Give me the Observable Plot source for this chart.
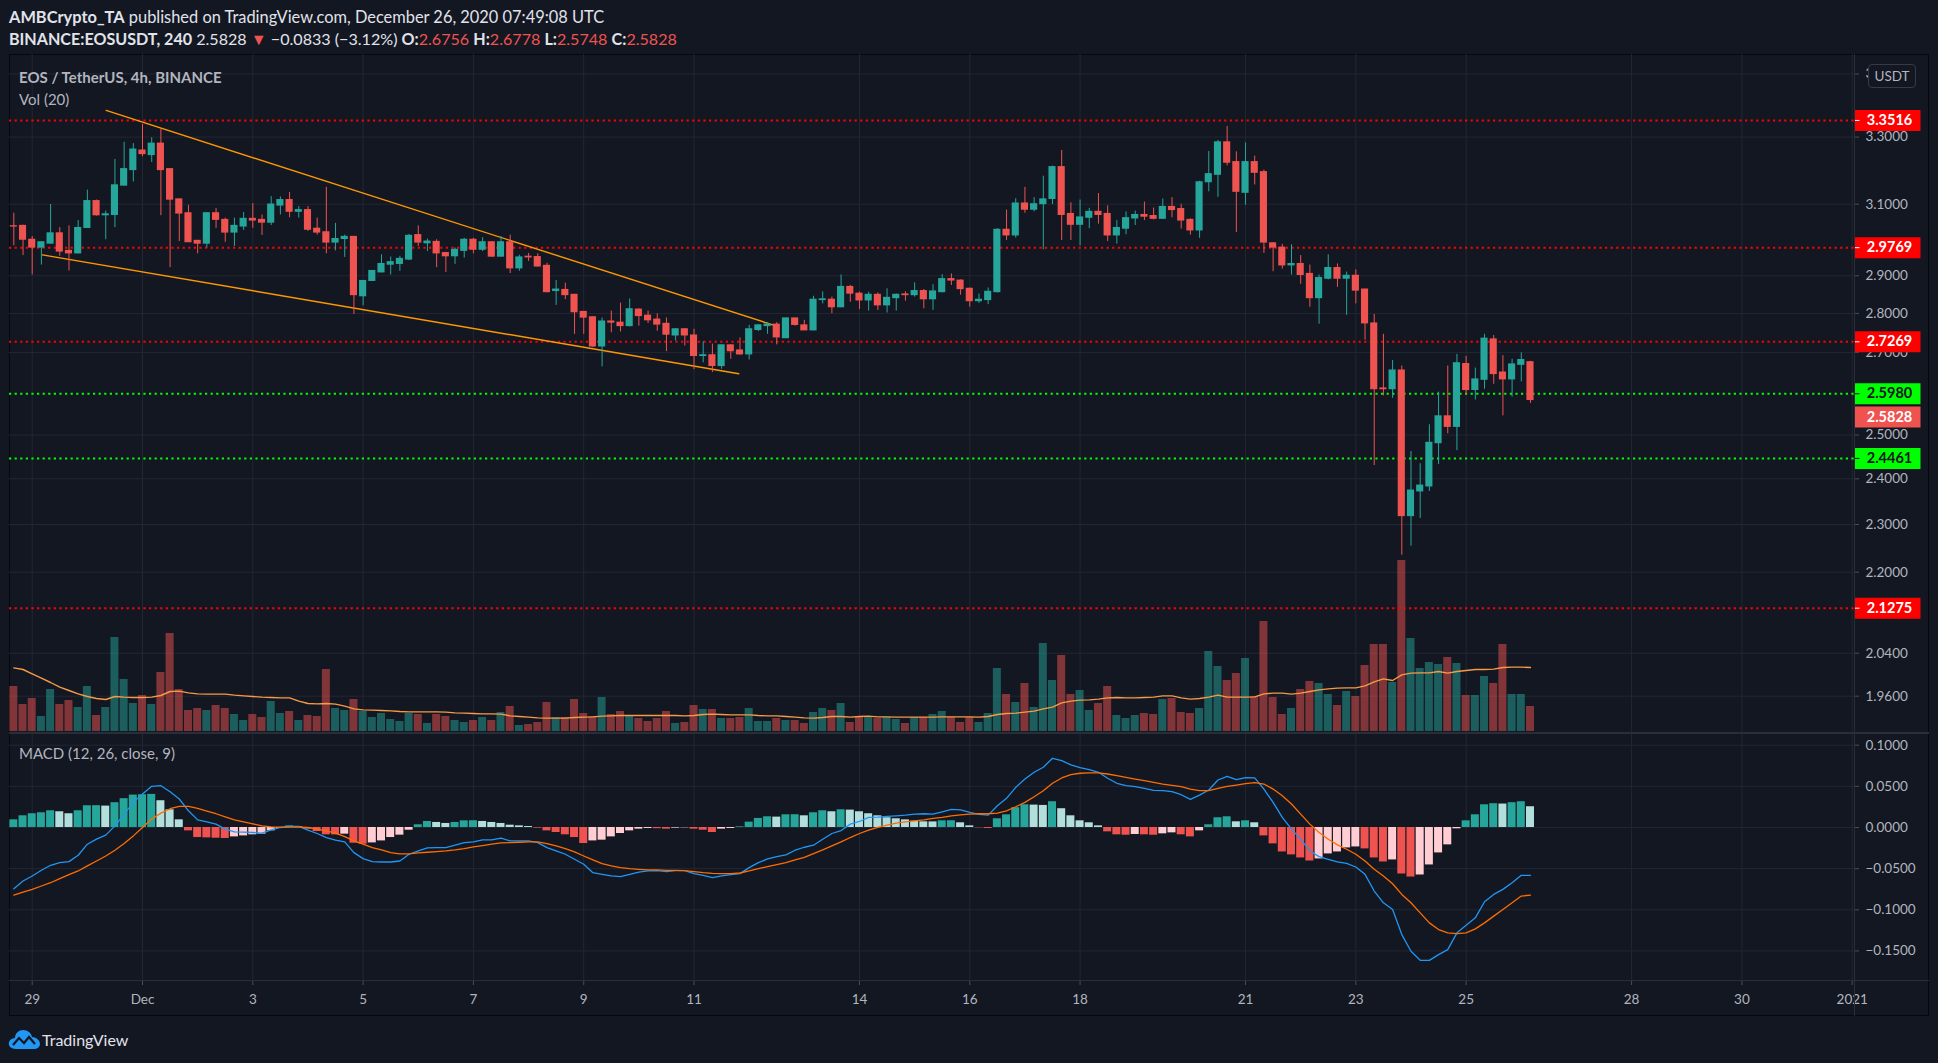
<!DOCTYPE html>
<html>
<head>
<meta charset="utf-8">
<script src="https://cdn.jsdelivr.net/npm/d3@7"></script>
<script src="https://cdn.jsdelivr.net/npm/@observablehq/plot@0.6"></script>
<style>
html,body{margin:0;padding:0;background:#131722;}
#root{position:relative;width:1938px;height:1063px;overflow:hidden;background:#131722;font-family:Lato,"Open Sans",sans-serif;}
.abs{position:absolute;white-space:nowrap;}
.hdr{left:9px;color:#e1e3ea;line-height:20px;}
.hdr b{font-weight:700;}
.red{color:#ef5350;}
.pane-title{left:19px;color:#b2b5be;font-size:15px;line-height:18px;}
svg{overflow:visible;}
</style>
</head>
<body>
<div id="root"></div>
<script>
// ---------- DATA ----------
const firstCandleUTC = "2020-11-28T16:00:00Z"; // 4h candles
const candleHours = 4;

const open = [
3.037,3.038,2.999,2.977,2.988,3.017,2.968,2.961,3.032,3.109,
3.068,3.069,3.154,3.200,3.259,3.245,3.280,3.203,3.114,3.074,
2.996,2.988,3.074,3.055,3.019,3.036,3.058,3.055,3.047,3.096,
3.112,3.078,3.083,3.030,3.020,2.991,3.001,3.007,2.845,2.886,
2.909,2.930,2.932,2.944,3.012,2.989,2.993,2.962,2.953,2.968,
2.999,2.971,2.992,2.952,2.992,2.920,2.952,2.951,2.927,2.859,
2.862,2.849,2.804,2.790,2.715,2.779,2.776,2.767,2.810,2.794,
2.784,2.773,2.743,2.759,2.743,2.691,2.693,2.666,2.718,2.705,
2.695,2.757,2.767,2.771,2.736,2.787,2.769,2.756,2.835,2.836,
2.816,2.870,2.852,2.834,2.849,2.821,2.840,2.850,2.848,2.859,
2.837,2.856,2.891,2.887,2.865,2.832,2.835,2.856,3.027,3.011,
3.102,3.084,3.100,3.115,3.209,3.072,3.041,3.061,3.078,3.072,
3.011,3.030,3.059,3.069,3.066,3.058,3.092,3.086,3.055,3.025,
3.164,3.186,3.284,3.224,3.133,3.224,3.194,2.989,2.977,2.928,
2.932,2.905,2.840,2.892,2.921,2.892,2.900,2.863,2.774,2.611,
2.609,2.655,2.318,2.372,2.383,2.481,2.544,2.519,2.671,2.607,
2.632,2.733,2.650,2.633,2.669,2.6756];

const high = [
3.074,3.040,3.008,2.993,3.099,3.033,3.038,3.053,3.141,3.112,
3.080,3.232,3.284,3.280,3.339,3.298,3.324,3.204,3.115,3.097,
2.997,3.076,3.088,3.060,3.060,3.076,3.102,3.069,3.122,3.121,
3.134,3.093,3.093,3.060,3.149,3.045,3.012,3.008,2.887,2.914,
2.957,2.951,2.953,3.014,3.038,3.001,2.999,2.964,2.976,3.003,
3.003,3.005,2.994,3.008,3.012,2.956,2.961,2.960,2.934,2.887,
2.880,2.850,2.805,2.791,2.788,2.806,2.827,2.838,2.812,2.806,
2.799,2.788,2.760,2.760,2.759,2.727,2.721,2.719,2.719,2.737,
2.769,2.771,2.776,2.776,2.788,2.788,2.782,2.845,2.857,2.843,
2.902,2.874,2.856,2.856,2.854,2.865,2.851,2.857,2.881,2.863,
2.876,2.903,2.905,2.889,2.867,2.851,2.867,3.030,3.083,3.116,
3.149,3.119,3.182,3.212,3.259,3.104,3.112,3.088,3.131,3.095,
3.053,3.078,3.080,3.106,3.089,3.115,3.119,3.100,3.058,3.167,
3.256,3.290,3.333,3.255,3.282,3.242,3.200,2.991,2.986,2.985,
2.955,2.929,2.902,2.957,2.932,2.910,2.916,2.864,2.797,2.746,
2.680,2.666,2.462,2.434,2.524,2.602,2.666,2.695,2.690,2.661,
2.746,2.743,2.692,2.683,2.699,2.6778];

const low = [
2.982,2.955,2.902,2.929,2.987,2.953,2.913,2.960,3.031,3.066,
2.999,3.033,3.153,3.165,3.240,3.223,3.067,2.922,2.994,2.992,
2.960,2.976,3.031,2.992,2.980,3.025,3.031,3.011,3.039,3.069,
3.061,3.060,3.022,3.012,2.960,2.968,2.950,2.797,2.820,2.885,
2.908,2.902,2.912,2.941,2.980,2.966,2.922,2.909,2.931,2.948,
2.960,2.966,2.950,2.951,2.906,2.912,2.939,2.924,2.854,2.821,
2.836,2.746,2.746,2.712,2.664,2.750,2.752,2.765,2.767,2.774,
2.754,2.702,2.729,2.716,2.657,2.674,2.650,2.658,2.683,2.693,
2.681,2.753,2.746,2.719,2.735,2.767,2.756,2.755,2.825,2.799,
2.815,2.829,2.810,2.806,2.808,2.801,2.806,2.832,2.843,2.812,
2.808,2.854,2.874,2.848,2.816,2.826,2.823,2.854,2.997,3.004,
3.074,3.078,2.971,3.099,2.997,2.997,2.982,3.030,3.043,2.994,
2.987,3.013,3.039,3.053,3.055,3.057,3.061,3.029,3.012,3.003,
3.136,3.120,3.213,3.019,3.097,3.156,2.961,2.911,2.918,2.902,
2.877,2.816,2.772,2.889,2.869,2.795,2.825,2.731,2.430,2.593,
2.587,2.235,2.254,2.313,2.372,2.432,2.503,2.464,2.595,2.583,
2.609,2.621,2.545,2.590,2.627,2.5748];

const close = [
3.036,2.999,2.977,2.992,3.017,2.966,2.961,3.032,3.109,3.068,
3.071,3.155,3.203,3.262,3.248,3.280,3.200,3.113,3.073,2.992,
2.988,3.074,3.055,3.019,3.038,3.058,3.053,3.047,3.099,3.112,
3.078,3.083,3.027,3.019,2.991,3.001,3.007,2.848,2.886,2.913,
2.932,2.937,2.946,3.010,2.991,2.994,2.961,2.953,2.971,2.999,
2.971,2.992,2.952,2.992,2.920,2.950,2.950,2.925,2.856,2.863,
2.848,2.803,2.789,2.715,2.779,2.776,2.767,2.811,2.793,2.782,
2.771,2.745,2.759,2.743,2.691,2.693,2.666,2.718,2.703,2.695,
2.759,2.769,2.771,2.738,2.787,2.770,2.756,2.836,2.837,2.816,
2.870,2.852,2.834,2.849,2.821,2.841,2.849,2.848,2.859,2.837,
2.858,2.891,2.887,2.864,2.832,2.836,2.857,3.027,3.011,3.102,
3.084,3.100,3.114,3.209,3.069,3.041,3.062,3.078,3.069,3.011,
3.032,3.060,3.069,3.064,3.058,3.092,3.083,3.053,3.025,3.164,
3.188,3.284,3.222,3.136,3.224,3.192,2.991,2.977,2.928,2.932,
2.902,2.840,2.894,2.921,2.892,2.900,2.860,2.774,2.609,2.609,
2.655,2.318,2.374,2.385,2.482,2.544,2.519,2.673,2.607,2.633,
2.735,2.646,2.633,2.670,2.681,2.5828];

// volume (x10k EOS)
const volume = [
135,81,99,45,126,81,93,72,135,48,
72,282,156,84,108,81,177,294,126,63,
69,63,78,69,51,33,51,42,90,54,
60,33,48,45,186,69,63,96,60,42,
54,36,30,54,51,24,51,45,33,27,
33,42,33,57,75,18,21,27,87,42,
42,96,54,45,102,51,60,45,39,30,
39,60,24,27,78,66,66,39,39,42,
69,30,30,39,33,33,24,57,69,63,
84,27,45,42,39,42,36,24,42,42,
51,60,42,27,42,27,54,189,111,87,
144,72,264,153,228,111,123,63,84,135,
48,39,48,54,51,96,99,57,54,69,
240,195,153,174,219,105,330,102,51,69,
126,150,144,111,78,120,105,198,261,261,
147,513,279,189,207,201,222,204,108,108,
165,144,261,111,111,75];

const volumeMA = [
191,186,173,160,147,133,123,113,105,99,
96,105,103,102,102,103,108,120,121,116,
113,112,112,112,109,107,105,103,102,101,
101,91,84,83,84,82,76,68,65,64,
63,62,60,59,59,59,59,58,56,55,
54,53,53,52,47,45,43,41,40,40,
40,42,43,44,46,47,48,48,48,48,
48,48,48,47,48,51,52,51,50,50,
50,48,47,47,45,43,41,40,42,45,
45,43,45,46,44,44,43,43,43,43,
43,44,44,44,44,43,45,51,54,55,
58,61,68,73,86,91,94,95,97,101,
102,101,101,102,103,107,107,101,97,99,
103,109,103,103,103,104,113,115,115,112,
115,120,125,128,130,131,131,137,149,158,
153,170,175,176,176,180,175,180,183,186,
186,187,192,193,193,192];

const macdLine = [
-0.0744,-0.0650,-0.0589,-0.0520,-0.0459,-0.0427,-0.0415,-0.0337,-0.0203,-0.0142,
-0.0093,0.0020,0.0163,0.0305,0.0407,0.0500,0.0508,0.0435,0.0346,0.0203,
0.0093,0.0069,0.0041,-0.0020,-0.0053,-0.0057,-0.0061,-0.0069,-0.0028,0.0000,
0.0012,0.0012,-0.0033,-0.0073,-0.0122,-0.0154,-0.0175,-0.0305,-0.0378,-0.0415,
-0.0419,-0.0419,-0.0407,-0.0325,-0.0285,-0.0248,-0.0244,-0.0244,-0.0215,-0.0183,
-0.0175,-0.0150,-0.0150,-0.0130,-0.0163,-0.0163,-0.0163,-0.0183,-0.0244,-0.0285,
-0.0325,-0.0386,-0.0447,-0.0549,-0.0569,-0.0589,-0.0598,-0.0569,-0.0541,-0.0528,
-0.0524,-0.0537,-0.0524,-0.0524,-0.0561,-0.0581,-0.0610,-0.0589,-0.0573,-0.0561,
-0.0488,-0.0427,-0.0382,-0.0354,-0.0333,-0.0276,-0.0240,-0.0215,-0.0142,-0.0073,
-0.0037,0.0041,0.0073,0.0122,0.0126,0.0134,0.0142,0.0150,0.0163,0.0167,
0.0163,0.0191,0.0220,0.0215,0.0183,0.0159,0.0150,0.0264,0.0354,0.0488,
0.0589,0.0671,0.0732,0.0841,0.0813,0.0760,0.0728,0.0703,0.0671,0.0598,
0.0537,0.0508,0.0496,0.0476,0.0451,0.0447,0.0435,0.0398,0.0341,0.0394,
0.0455,0.0577,0.0622,0.0581,0.0606,0.0602,0.0467,0.0305,0.0122,-0.0020,
-0.0142,-0.0285,-0.0354,-0.0386,-0.0419,-0.0435,-0.0480,-0.0569,-0.0772,-0.0915,
-0.0996,-0.1301,-0.1504,-0.1614,-0.1614,-0.1545,-0.1484,-0.1280,-0.1187,-0.1098,
-0.0902,-0.0813,-0.0752,-0.0671,-0.0581,-0.0581];

const signalLine = [
-0.0821,-0.0785,-0.0752,-0.0711,-0.0671,-0.0622,-0.0573,-0.0528,-0.0467,-0.0407,
-0.0346,-0.0276,-0.0195,-0.0102,0.0000,0.0102,0.0175,0.0228,0.0256,0.0256,
0.0232,0.0199,0.0167,0.0130,0.0093,0.0069,0.0045,0.0020,0.0008,0.0004,
0.0004,0.0004,0.0000,-0.0020,-0.0041,-0.0069,-0.0110,-0.0163,-0.0203,-0.0244,
-0.0272,-0.0305,-0.0321,-0.0321,-0.0309,-0.0301,-0.0293,-0.0285,-0.0272,-0.0256,
-0.0236,-0.0220,-0.0203,-0.0187,-0.0183,-0.0179,-0.0175,-0.0175,-0.0195,-0.0224,
-0.0256,-0.0297,-0.0346,-0.0394,-0.0439,-0.0467,-0.0488,-0.0500,-0.0508,-0.0516,
-0.0516,-0.0520,-0.0520,-0.0524,-0.0537,-0.0549,-0.0557,-0.0561,-0.0561,-0.0553,
-0.0528,-0.0500,-0.0476,-0.0451,-0.0427,-0.0394,-0.0362,-0.0317,-0.0272,-0.0224,
-0.0175,-0.0122,-0.0073,-0.0033,0.0000,0.0028,0.0053,0.0069,0.0081,0.0093,
0.0110,0.0122,0.0142,0.0154,0.0163,0.0167,0.0167,0.0175,0.0203,0.0252,
0.0305,0.0374,0.0447,0.0537,0.0602,0.0642,0.0659,0.0663,0.0663,0.0650,
0.0630,0.0610,0.0589,0.0569,0.0549,0.0528,0.0512,0.0496,0.0467,0.0447,
0.0447,0.0476,0.0500,0.0516,0.0533,0.0545,0.0528,0.0467,0.0386,0.0285,
0.0163,0.0041,-0.0061,-0.0142,-0.0211,-0.0264,-0.0325,-0.0407,-0.0508,-0.0589,
-0.0683,-0.0813,-0.0915,-0.1037,-0.1159,-0.1240,-0.1280,-0.1289,-0.1280,-0.1232,
-0.1159,-0.1077,-0.0996,-0.0915,-0.0833,-0.0821];

const macdHist = [
0.0093,0.0142,0.0167,0.0179,0.0203,0.0191,0.0167,0.0203,0.0264,0.0265,
0.0260,0.0301,0.0350,0.0394,0.0398,0.0402,0.0325,0.0215,0.0093,-0.0041,
-0.0122,-0.0126,-0.0130,-0.0134,-0.0114,-0.0102,-0.0089,-0.0081,-0.0041,-0.0012,
0.0020,0.0008,-0.0020,-0.0049,-0.0089,-0.0090,-0.0081,-0.0191,-0.0203,-0.0187,
-0.0163,-0.0122,-0.0093,-0.0033,0.0033,0.0073,0.0061,0.0049,0.0061,0.0081,
0.0082,0.0073,0.0061,0.0049,0.0028,0.0020,0.0012,-0.0008,-0.0041,-0.0061,
-0.0089,-0.0122,-0.0195,-0.0163,-0.0154,-0.0114,-0.0073,-0.0041,-0.0020,-0.0012,
-0.0014,-0.0020,-0.0008,-0.0004,-0.0020,-0.0033,-0.0061,-0.0020,-0.0012,0.0008,
0.0065,0.0110,0.0130,0.0126,0.0154,0.0155,0.0142,0.0179,0.0203,0.0191,
0.0215,0.0211,0.0191,0.0167,0.0142,0.0118,0.0106,0.0093,0.0077,0.0069,
0.0068,0.0081,0.0082,0.0057,0.0020,-0.0004,-0.0012,0.0106,0.0154,0.0240,
0.0276,0.0272,0.0268,0.0313,0.0228,0.0142,0.0081,0.0057,0.0020,-0.0053,
-0.0089,-0.0094,-0.0085,-0.0089,-0.0094,-0.0077,-0.0065,-0.0089,-0.0114,-0.0041,
0.0033,0.0118,0.0130,0.0069,0.0081,0.0057,-0.0102,-0.0199,-0.0297,-0.0333,
-0.0370,-0.0407,-0.0382,-0.0321,-0.0297,-0.0248,-0.0236,-0.0260,-0.0370,-0.0419,
-0.0394,-0.0565,-0.0602,-0.0577,-0.0455,-0.0309,-0.0211,-0.0016,0.0081,0.0154,
0.0276,0.0289,0.0285,0.0301,0.0313,0.0252];

// horizontal levels drawn on the chart
const levelPrices = [3.3516, 2.9769, 2.7269, 2.5980, 2.4461, 2.1275];
const levelColors = ["#ff0000","#ff0000","#ff0000","#00ff00","#00ff00","#ff0000"];
const levelTextColors = ["#ffffff","#ffffff","#ffffff","#131722","#131722","#ffffff"];
const lastPrice = 2.5828;
const lastPriceColor = "#ef5350";

// falling-wedge trend lines
const trendNames  = ["upper","upper","lower","lower"];
const trendDates  = ["2020-11-30T08:10:00Z","2020-12-12T10:53:00Z","2020-11-29T04:24:00Z","2020-12-11T19:29:00Z"];
const trendPrices = [3.383, 2.769, 2.957, 2.647];

// axes
const priceTicks = [3.5, 3.3, 3.1, 2.9, 2.8, 2.7, 2.5, 2.4, 2.3, 2.2, 2.04, 1.96];
const macdTicks = [0.1, 0.05, 0, -0.05, -0.1, -0.15];
const dateTickDates = ["2020-11-29","2020-12-01","2020-12-03","2020-12-05","2020-12-07","2020-12-09","2020-12-11","2020-12-14","2020-12-16","2020-12-18","2020-12-21","2020-12-23","2020-12-25","2020-12-28","2020-12-30","2021-01-01"];
const dateTickLabels = ["29","Dec","3","5","7","9","11","14","16","18","21","23","25","28","30","2021"];

// ---------- BUILD ----------
const H = 3600e3;
const t0 = Date.parse(firstCandleUTC);
const UP = "#26a69a", DOWN = "#ef5350";
const candles = open.map((o, i) => {
  const h = macdHist[i], p = i > 0 ? macdHist[i - 1] : h;
  return {
    date: new Date(t0 + i * candleHours * H),
    open: o, high: high[i], low: low[i], close: close[i],
    volume: volume[i], volumeMA: volumeMA[i],
    macd: macdLine[i], signal: signalLine[i], hist: h,
    histColor: h >= 0 ? (h >= p ? "#26a69a" : "#b2dfdb") : (h < p ? "#ef5350" : "#ffcdd2")
  };
});
const col = d => d.close >= d.open ? UP : DOWN;
const levels = levelPrices.map((p, i) => ({price: p, color: levelColors[i], textColor: levelTextColors[i]}));
const lastLabel = [{price: lastPrice, color: lastPriceColor, textColor: "#ffffff"}];
const trend = trendDates.map((d, i) => ({name: trendNames[i], date: new Date(d), price: trendPrices[i]}));
const dateTicks = dateTickDates.map(d => new Date(d + "T00:00:00Z"));
const labelMap = new Map(dateTicks.map((d, i) => [+d, dateTickLabels[i]]));

const xDomain = [new Date(Date.UTC(2020, 10, 28, 14, 7)), new Date(Date.UTC(2021, 0, 1, 1, 0))];
const GRID = "#232733";
const baseStyle = {background: "transparent", color: "#b2b5be", fontFamily: "Lato, 'Open Sans', sans-serif", fontSize: "13.5px", overflow: "visible"};

// rectangular symbol for the price-axis label boxes
const boxSymbol = {draw(context) { context.rect(-33, -10.5, 66, 21); }};
const tickSymbol = {draw(context) { context.moveTo(-33, 0); context.lineTo(-28, 0); }};

const root = document.getElementById("root");
function place(el, left, top) {
  el.style.position = "absolute"; el.style.left = left + "px"; el.style.top = top + "px";
  root.appendChild(el); return el;
}
function div(cls, left, top, html, extra) {
  const d = document.createElement("div");
  d.className = "abs " + (cls || "");
  d.style.left = left + "px"; d.style.top = top + "px";
  if (extra) Object.assign(d.style, extra);
  d.innerHTML = html || "";
  root.appendChild(d); return d;
}

// header
div("hdr", 9, 7, "<b>AMBCrypto_TA</b> published on TradingView.com, December 26, 2020 07:49:08 UTC", {fontSize: "16.4px"});
div("hdr", 9, 29, "<b>BINANCE:EOSUSDT, 240</b> 2.5828 <span class='red'>▼</span> −0.0833 (−3.12%) <b>O:</b><span class='red'>2.6756</span> <b>H:</b><span class='red'>2.6778</span> <b>L:</b><span class='red'>2.5748</span> <b>C:</b><span class='red'>2.5828</span>", {fontSize: "16.1px"});

// chart frame
div("", 9, 54, "", {width: "1920px", height: "962px", border: "1px solid #05070b", boxSizing: "border-box"});

const mainOpts = (marks) => Plot.plot({
  width: 1921, height: 679, marginLeft: 0, marginRight: 76, marginTop: 0, marginBottom: 0,
  style: baseStyle,
  x: {type: "utc", domain: xDomain, axis: null},
  y: {type: "log", domain: [1.893, 3.564], axis: null},
  color: {type: "identity"},
  marks
});

// grid layer
place(mainOpts([
  Plot.ruleY(priceTicks, {stroke: GRID}),
  Plot.ruleX(dateTicks, {stroke: GRID})
]), 9, 54);

// volume layer
place(Plot.plot({
  width: 1845, height: 240, marginLeft: 0, marginRight: 0, marginTop: 0, marginBottom: 0,
  style: baseStyle,
  x: {type: "utc", domain: xDomain, axis: null},
  y: {domain: [0, 720], axis: null},
  color: {type: "identity"},
  marks: [
    Plot.rect(candles, {x1: d => new Date(+d.date - 2 * H), x2: d => new Date(+d.date + 2 * H), y1: 0, y2: "volume", fill: col, fillOpacity: 0.5, insetLeft: 0.6, insetRight: 0.6}),
    Plot.line(candles, {x: "date", y: "volumeMA", stroke: "#f79a45", strokeWidth: 1.4, curve: "linear"})
  ]
}), 9, 491);

// price layer
place(mainOpts([
  Plot.ruleY(levels, {y: "price", stroke: "color", strokeWidth: 2, strokeDasharray: "2.2,3.4"}),
  Plot.line(trend, {x: "date", y: "price", z: "name", stroke: "#ff9800", strokeWidth: 1.4}),
  Plot.ruleX(candles, {x: "date", y1: "low", y2: "high", stroke: col, strokeWidth: 1}),
  Plot.rect(candles, {x1: d => new Date(+d.date - 1.55 * H), x2: d => new Date(+d.date + 1.55 * H), y1: "open", y2: "close", fill: col, insetTop: -0.5, insetBottom: -0.5}),
  Plot.axisY(priceTicks, {anchor: "right", tickFormat: d3.format(".4f"), tickSize: 4, tickPadding: 7, stroke: "#4a4e59", fill: "#b2b5be"}),
  // level labels on the price axis
  Plot.dot(levels, {y: "price", frameAnchor: "right", dx: 33, symbol: boxSymbol, fill: "color", stroke: "none"}),
  Plot.dot(levels, {y: "price", frameAnchor: "right", dx: 33, symbol: tickSymbol, fill: "none", stroke: "textColor", strokeWidth: 1}),
  Plot.text(levels, {y: "price", text: d => d.price.toFixed(4), frameAnchor: "right", textAnchor: "middle", dx: 35, fill: "textColor", fontWeight: "bold", fontSize: 14.5}),
  // last-price label, stacked below the 2.5980 label as in TradingView
  Plot.dot(lastLabel, {y: "price", frameAnchor: "right", dx: 33, dy: 17, symbol: boxSymbol, fill: "color", stroke: "none"}),
  Plot.text(lastLabel, {y: "price", text: d => d.price.toFixed(4), frameAnchor: "right", textAnchor: "middle", dx: 35, dy: 17, fill: "textColor", fontWeight: "bold", fontSize: 14.5})
]), 9, 54);

// MACD pane
place(Plot.plot({
  width: 1921, height: 283, marginLeft: 0, marginRight: 76, marginTop: 0, marginBottom: 36,
  style: baseStyle,
  x: {type: "utc", domain: xDomain, axis: null},
  y: {domain: [-0.1859, 0.1142], axis: null},
  color: {type: "identity"},
  marks: [
    Plot.ruleY(macdTicks, {stroke: GRID}),
    Plot.ruleX(dateTicks, {stroke: GRID}),
    Plot.rect(candles, {x1: d => new Date(+d.date - 2 * H), x2: d => new Date(+d.date + 2 * H), y1: 0, y2: "hist", fill: "histColor", insetLeft: 0.6, insetRight: 0.6}),
    Plot.line(candles, {x: "date", y: "macd", stroke: "#2196f3", strokeWidth: 1.3}),
    Plot.line(candles, {x: "date", y: "signal", stroke: "#ff6d00", strokeWidth: 1.3}),
    Plot.axisY(macdTicks, {anchor: "right", tickFormat: d3.format(".4f"), tickSize: 4, tickPadding: 7, stroke: "#4a4e59", fill: "#b2b5be"}),
    Plot.axisX(dateTicks, {anchor: "bottom", tickFormat: d => labelMap.get(+d), tickSize: 5, tickPadding: 9, stroke: "#4a4e59", fill: "#b2b5be", fontSize: 13.5})
  ]
}), 9, 733);

// separators
div("", 9, 732, "", {width: "1920px", height: "2px", background: "#2a2e39"});
div("", 9, 980, "", {width: "1920px", height: "1px", background: "#2a2e39"});
div("", 1854, 54, "", {width: "1px", height: "962px", background: "#2a2e39"});

// pane titles
div("pane-title", 19, 68, "<b>EOS / TetherUS, 4h, BINANCE</b>");
div("pane-title", 19, 90, "Vol (20)");
div("pane-title", 19, 744, "MACD (12, 26, close, 9)");

// currency button
div("", 1868, 64, "USDT", {width: "48px", height: "24px", lineHeight: "22px", textAlign: "center", border: "1px solid #363a45", borderRadius: "4px", boxSizing: "border-box", background: "#131722", color: "#b2b5be", fontSize: "13.5px"});

// footer logo
div("", 7, 1028, `<svg width="34" height="22" viewBox="0 0 34 22"><path d="M9 21 C3 21 1 17 2 14 C3 11 6 10 8 10 C8 5 12 2 16 2 C21 2 24 5 25 9 C29 9 33 12 33 16 C33 19 30 21 27 21 Z" fill="#2196f3"/><path d="M6 17 L12 10 L17 15 L22 9 L28 16" fill="none" stroke="#131722" stroke-width="2.2"/></svg>`);
div("", 42, 1030, "TradingView", {fontSize: "16px", color: "#e1e3ea", lineHeight: "20px"});
</script>
</body>
</html>
